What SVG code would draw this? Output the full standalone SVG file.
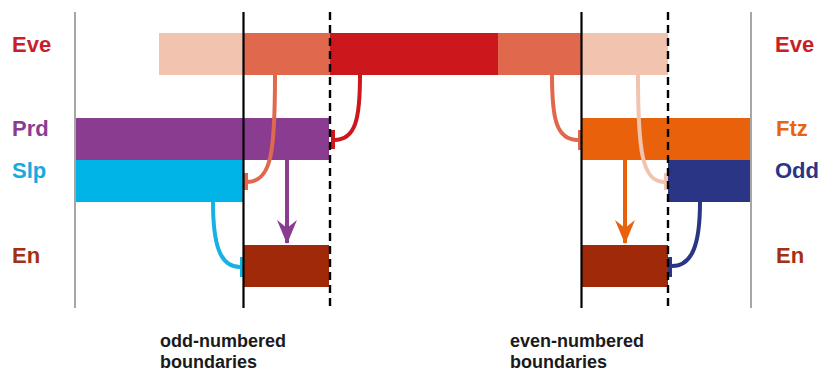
<svg xmlns="http://www.w3.org/2000/svg" width="822" height="374" viewBox="0 0 822 374">
  <defs>
    <style>
      .lbl { font-family: "Liberation Sans", Arial, sans-serif; font-weight: bold; font-size: 22px; }
      .cap { font-family: "Liberation Sans", Arial, sans-serif; font-weight: bold; font-size: 18px; fill: #1a1a1a; }
      .edge { stroke: #a6a6a6; stroke-width: 2; fill: none; }
      .solid { stroke: #000; stroke-width: 2.2; fill: none; }
      .dash { stroke: #000; stroke-width: 2.4; stroke-dasharray: 8 5; fill: none; }
      .link { fill: none; stroke-width: 4; }
      .bar { fill: none; stroke-width: 4; }
    </style>
    <marker id="headPrd" viewBox="0 0 24 20" refX="23" refY="10" markerWidth="24" markerHeight="20" markerUnits="userSpaceOnUse" orient="auto">
      <path d="M24,10 L0,0 L8,10 L0,20 Z" fill="#8a3d90"/>
    </marker>
    <marker id="headFtz" viewBox="0 0 24 20" refX="23" refY="10" markerWidth="24" markerHeight="20" markerUnits="userSpaceOnUse" orient="auto">
      <path d="M24,10 L0,0 L8,10 L0,20 Z" fill="#e9620b"/>
    </marker>
  </defs>

  <rect width="822" height="374" fill="#fff"/>

  <!-- Eve stripe with graded levels -->
  <g id="eve">
    <rect x="159" y="33" width="84" height="42" fill="#f2c3af"/>
    <rect x="243" y="33" width="87" height="42" fill="#df684d"/>
    <rect x="330" y="33" width="168" height="42" fill="#cc171c"/>
    <rect x="498" y="33" width="84" height="42" fill="#df684d"/>
    <rect x="582" y="33" width="86" height="42" fill="#f2c3af"/>
  </g>
  <g id="prd"><rect x="75" y="118" width="254" height="42" fill="#8a3d90"/></g>
  <g id="slp"><rect x="75" y="160" width="168" height="42" fill="#00b4e8"/></g>
  <g id="en-odd"><rect x="243" y="245" width="86" height="42" fill="#a0290a"/></g>
  <g id="ftz"><rect x="582" y="118" width="169" height="42" fill="#e9620b"/></g>
  <g id="odd"><rect x="668" y="160" width="83" height="42" fill="#2a3586"/></g>
  <g id="en-even"><rect x="582" y="245" width="86" height="42" fill="#a0290a"/></g>

  <!-- regulatory connectors -->
  <g id="connectors">
    <path class="link" stroke="#df684d" d="M275,75 C275,150 272,182 247,182"/>
    <line class="bar" stroke="#df684d" x1="246" y1="173" x2="246" y2="190"/>

    <path class="link" stroke="#cc171c" d="M360,75 C360,118 356,140 334,140"/>
    <line class="bar" stroke="#cc171c" x1="333" y1="130" x2="333" y2="149"/>

    <path class="link" stroke="#8a3d90" d="M287,160 L287,243" marker-end="url(#headPrd)"/>

    <path class="link" stroke="#17b1e3" d="M213,202 C213,245 220,267 240,267"/>
    <line class="bar" stroke="#17b1e3" x1="242" y1="257" x2="242" y2="277"/>

    <path class="link" stroke="#df684d" d="M552,75 C552,118 556,140 578,140"/>
    <line class="bar" stroke="#df684d" x1="580" y1="130" x2="580" y2="150"/>

    <path class="link" stroke="#f2c3af" d="M638,75 C638,150 642,182 664,182"/>
    <line class="bar" stroke="#f2c3af" x1="666" y1="173" x2="666" y2="190"/>

    <path class="link" stroke="#e9620b" d="M625,160 L625,243" marker-end="url(#headFtz)"/>

    <path class="link" stroke="#2a3586" d="M700,202 C700,245 692,266 672,266"/>
    <line class="bar" stroke="#2a3586" x1="670" y1="257" x2="670" y2="277"/>
  </g>

  <!-- field edges and boundary lines -->
  <g id="guides">
    <line class="edge" x1="75" y1="12" x2="75" y2="308"/>
    <line class="edge" x1="751" y1="12" x2="751" y2="308"/>
    <line class="solid" x1="243.5" y1="12" x2="243.5" y2="308"/>
    <line class="dash" x1="330" y1="12" x2="330" y2="308"/>
    <line class="solid" x1="581.5" y1="12" x2="581.5" y2="308"/>
    <line class="dash" x1="668" y1="12" x2="668" y2="308"/>
  </g>

  <!-- gene labels -->
  <g id="labels">
    <text class="lbl" x="12" y="52" fill="#c8202a">Eve</text>
    <text class="lbl" x="12" y="136" fill="#8a3d90">Prd</text>
    <text class="lbl" x="12" y="178" fill="#17a9df">Slp</text>
    <text class="lbl" x="12" y="263" fill="#a3300f">En</text>
    <text class="lbl" x="775" y="52" fill="#c8202a">Eve</text>
    <text class="lbl" x="776" y="136" fill="#e8650f">Ftz</text>
    <text class="lbl" x="775" y="178" fill="#2a3586">Odd</text>
    <text class="lbl" x="776" y="263" fill="#a3300f">En</text>
  </g>

  <g id="captions">
    <text class="cap" x="160" y="347">odd-numbered</text>
    <text class="cap" x="160" y="368">boundaries</text>
    <text class="cap" x="510" y="347">even-numbered</text>
    <text class="cap" x="510" y="368">boundaries</text>
  </g>
</svg>
